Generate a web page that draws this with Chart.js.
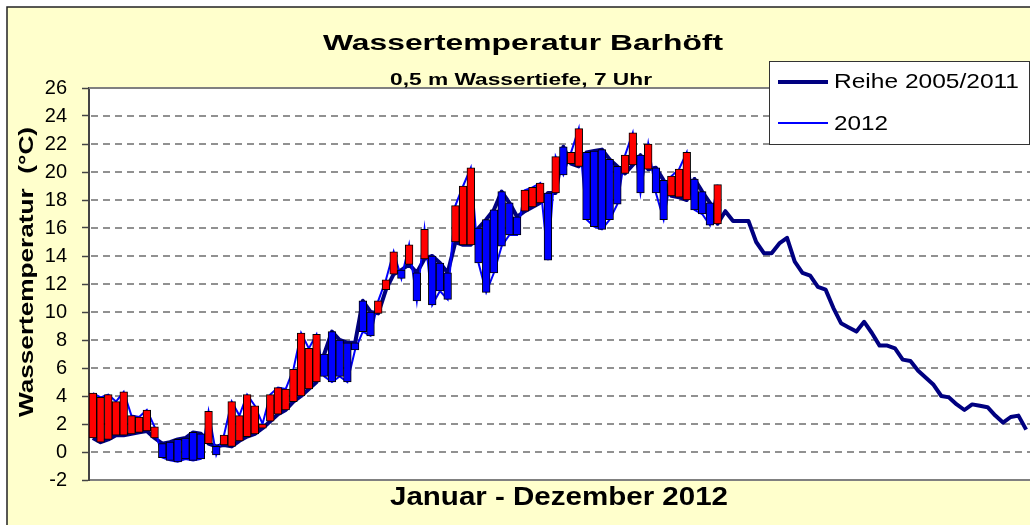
<!DOCTYPE html>
<html>
<head>
<meta charset="utf-8">
<script src="https://cdn.jsdelivr.net/npm/chart.js@4/dist/chart.umd.min.js"></script>
<style>
  html, body { margin: 0; padding: 0; background: #fff; }
  #wrap { width: 1030px; height: 525px; position: relative; }
</style>
</head>
<body>
<div id="wrap"><canvas id="waterChart"></canvas></div>
<script>
// Day of year (every 3rd day), Januar - Dezember 2012
const days = [1,4,7,10,13,16,19,22,25,28,31,34,37,40,43,46,49,52,55,58,61,64,67,70,73,76,79,82,85,88,
  91,94,97,100,103,106,109,112,115,118,121,124,127,130,133,136,139,142,145,148,151,154,157,160,163,166,169,172,175,178,
  181,184,187,190,193,196,199,202,205,208,211,214,217,220,223,226,229,232,235,238,241,244,247,250,253,256,259,262,265,268,
  271,274,277,280,283,286,289,292,295,298,301,304,307,310,313,316,319,322,325,328,331,334,337,340,343,346,349,352,355,358,
  361,364];

// Reihe 2005/2011 (mean), °C
const reihe = [1.0,0.7,0.9,1.2,1.2,1.3,1.4,1.5,1.0,0.6,
  0.7,0.9,1.0,1.4,1.3,0.6,0.4,0.5,0.4,0.8,
  1.1,1.3,1.7,2.2,2.7,3.0,3.6,4.0,4.5,5.0,
  7.0,8.6,8.0,7.8,7.8,10.8,10.0,9.9,11.6,12.7,
  13.0,13.4,12.8,13.8,14.0,13.5,12.8,15.0,14.8,14.8,
  16.0,16.6,17.3,18.6,17.8,16.8,17.2,17.5,17.8,18.5,
  18.5,21.8,20.6,20.4,21.4,21.5,21.6,20.9,20.4,19.9,
  20.5,21.2,20.2,20.3,19.4,18.3,18.2,18.0,19.5,18.6,
  17.8,16.3,17.2,16.5,16.5,16.5,15.0,14.2,14.2,14.9,
  15.3,13.6,12.8,12.6,11.8,11.6,10.3,9.2,8.9,8.6,
  9.3,8.5,7.6,7.6,7.4,6.6,6.5,5.8,5.3,4.8,
  4.0,3.9,3.4,3.0,3.4,3.3,3.2,2.6,2.1,2.5,
  2.6,1.6];

// 2012 (Jan - Aug), °C
const jahr2012 = [4.2,3.9,4.1,3.6,4.3,2.6,2.5,3.0,1.8,-0.4,
  -0.6,-0.7,-0.5,-0.6,-0.5,2.9,-0.2,1.2,3.6,2.6,
  4.1,3.3,2.0,4.1,4.6,4.5,5.9,8.5,7.4,8.4,
  5.4,5.0,5.4,5.0,7.3,8.6,8.3,10.8,12.3,14.3,
  12.4,14.8,10.8,15.9,10.5,11.5,10.9,17.6,19.0,20.3,
  13.5,11.4,12.8,14.7,15.5,15.5,18.7,18.9,19.2,13.7,
  21.1,19.8,21.4,23.1,16.6,16.1,15.9,16.6,17.7,21.2,
  22.8,18.5,22.0,18.5,16.6,19.7,20.2,21.4,17.3,17.0,
  16.2,19.1];

const yTicks = [-2,0,2,4,6,8,10,12,14,16,18,20,22,24,26];

// up/down bars between the two series
const diffBars = jahr2012.map((v, i) => [Math.min(v, reihe[i]), Math.max(v, reihe[i])]);
const diffColors = jahr2012.map((v, i) => v >= reihe[i] ? '#FF0000' : '#0000FF');

const FONT = '"Liberation Sans", Arial, sans-serif';

// draw text squeezed/stretched to the width it has in the picture
function fitText(ctx, text, x, y, font, width, align) {
  ctx.save();
  ctx.font = font;
  const w = ctx.measureText(text).width;
  ctx.translate(x, y);
  ctx.scale(width / w, 1);
  ctx.textAlign = align;
  ctx.textBaseline = 'alphabetic';
  ctx.fillStyle = '#000';
  ctx.fillText(text, 0, 0);
  ctx.restore();
}

const framePlugin = {
  id: 'frame',
  beforeDraw(chart) {
    const { ctx, chartArea: a, width, height } = chart;
    ctx.save();
    ctx.fillStyle = '#fff';
    ctx.fillRect(0, 0, width, height);
    ctx.fillStyle = '#FFFFCC';
    ctx.fillRect(7, 7, width, height);
    ctx.strokeStyle = '#222';
    ctx.lineWidth = 1.5;
    ctx.strokeRect(7, 7, width + 20, height + 20);
    ctx.fillStyle = '#fff';
    ctx.fillRect(a.left, a.top, a.right - a.left, a.bottom - a.top);
    ctx.restore();
  },
  beforeDatasetsDraw(chart) {
    // dashed horizontal grid lines
    const { ctx, chartArea: a, scales } = chart;
    ctx.save();
    ctx.strokeStyle = '#6e6e6e';
    ctx.lineWidth = 1.5;
    ctx.setLineDash([7, 5]);
    yTicks.forEach((v) => {
      if (v === yTicks[0] || v === yTicks[yTicks.length - 1]) return;
      const y = scales.y.getPixelForValue(v);
      ctx.beginPath();
      ctx.moveTo(a.left + 2, y);
      ctx.lineTo(a.right, y);
      ctx.stroke();
    });
    ctx.restore();
  },
  afterDraw(chart) {
    const { ctx, chartArea: a } = chart;
    ctx.save();
    // top border of plot
    ctx.strokeStyle = '#808080';
    ctx.lineWidth = 2;
    ctx.beginPath();
    ctx.moveTo(a.left, a.top);
    ctx.lineTo(a.right, a.top);
    ctx.stroke();
    ctx.restore();

    // titles
    fitText(ctx, 'Wassertemperatur Barhöft', 523, 50, 'bold 22px ' + FONT, 400, 'center');
    fitText(ctx, '0,5 m Wassertiefe, 7 Uhr', 521, 85, 'bold 16px ' + FONT, 262, 'center');
    fitText(ctx, 'Januar - Dezember 2012', 559, 505, 'bold 25px ' + FONT, 338, 'center');

    // y axis title
    ctx.save();
    ctx.translate(33, 272);
    ctx.rotate(-Math.PI / 2);
    fitText(ctx, 'Wassertemperatur  (°C)', 0, 0, 'bold 20px ' + FONT, 290, 'center');
    ctx.restore();

    // legend
    ctx.save();
    ctx.fillStyle = '#fff';
    ctx.fillRect(769.5, 61.5, 260, 83);
    ctx.strokeStyle = '#333';
    ctx.lineWidth = 1;
    ctx.strokeRect(769.5, 61.5, 260, 83);
    ctx.strokeStyle = '#000080';
    ctx.lineWidth = 4;
    ctx.beginPath();
    ctx.moveTo(778, 82);
    ctx.lineTo(828, 82);
    ctx.stroke();
    ctx.strokeStyle = '#0000FF';
    ctx.lineWidth = 2;
    ctx.beginPath();
    ctx.moveTo(778, 123);
    ctx.lineTo(828, 123);
    ctx.stroke();
    ctx.restore();
    fitText(ctx, 'Reihe 2005/2011', 834, 88, '21px ' + FONT, 185, 'left');
    fitText(ctx, '2012', 834, 130, '21px ' + FONT, 54, 'left');
  }
};

new Chart(document.getElementById('waterChart'), {
  type: 'bar',
  data: {
    labels: days,
    datasets: [
      {
        type: 'line',
        label: 'Reihe 2005/2011',
        data: reihe,
        borderColor: '#000080',
        borderWidth: 4,
        pointRadius: 0,
        tension: 0,
        borderJoinStyle: 'round',
        order: 2
      },
      {
        type: 'line',
        label: '2012',
        data: jahr2012,
        borderColor: '#0000FF',
        borderWidth: 2,
        pointRadius: 0,
        tension: 0,
        order: 1
      },
      {
        type: 'bar',
        label: 'Abweichung',
        data: diffBars,
        backgroundColor: diffColors,
        borderColor: '#000',
        borderWidth: 1,
        borderSkipped: false,
        barPercentage: 1,
        categoryPercentage: 1,
        order: 0
      }
    ]
  },
  options: {
    responsive: true,
    maintainAspectRatio: false,
    animation: false,
    layout: { padding: { top: 88, left: 0, right: 0, bottom: 0 } },
    plugins: {
      legend: { display: false },
      title: { display: false },
      tooltip: { enabled: false }
    },
    scales: {
      x: {
        ticks: { display: false },
        grid: { display: false },
        border: { color: '#808080', width: 2 },
        afterFit: (s) => { s.height = 45; }
      },
      y: {
        min: yTicks[0],
        max: yTicks[yTicks.length - 1],
        ticks: {
          stepSize: 2,
          color: '#000',
          padding: 15,
          font: { family: FONT, size: 20 }
        },
        grid: {
          drawOnChartArea: false,
          tickColor: '#444',
          tickLength: 7,
          tickWidth: 1.5
        },
        border: { color: '#444', width: 2 },
        afterFit: (s) => { s.width = 89; }
      }
    }
  },
  plugins: [framePlugin]
});
</script>
</body>
</html>
